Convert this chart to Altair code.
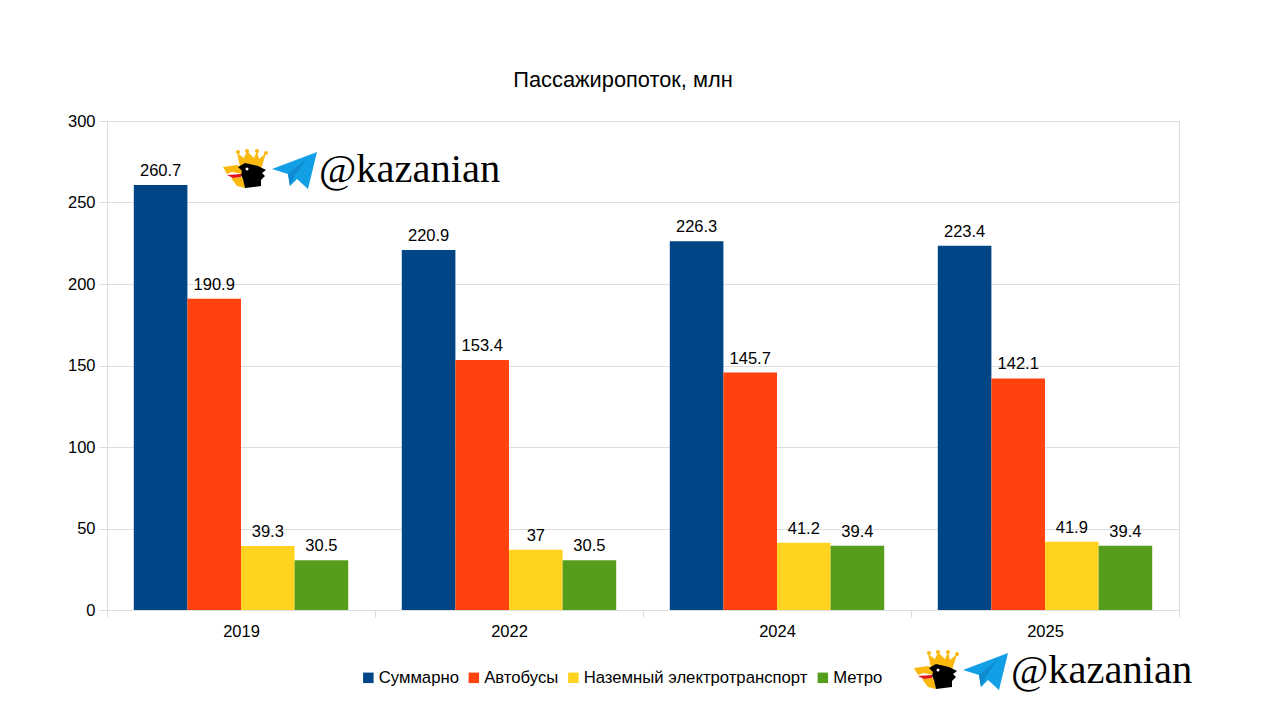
import base64
import altair as alt
import pandas as pd

years = ["2019", "2022", "2024", "2025"]
series = ["Суммарно", "Автобусы", "Наземный электротранспорт", "Метро"]
colors = ["#004586", "#ff420e", "#ffd320", "#579d1c"]
total = [260.7, 220.9, 226.3, 223.4]
buses = [190.9, 153.4, 145.7, 142.1]
surface = [39.3, 37, 41.2, 41.9]
metro = [30.5, 30.5, 39.4, 39.4]
yticks = [0, 50, 100, 150, 200, 250, 300]
title = "Пассажиропоток, млн"
handle = "@kazanian"

rows = []
for name, values in zip(series, [total, buses, surface, metro]):
    for year, v in zip(years, values):
        rows.append({"year": year, "series": name, "value": v, "label": str(v)})
df = pd.DataFrame(rows)

FONT = "Liberation Sans"
GRID = "#dddddd"

x = alt.X("year:N", sort=years, title=None,
          scale=alt.Scale(paddingInner=0, paddingOuter=0),
          axis=alt.Axis(labelAngle=0, labelFont=FONT, labelFontSize=16.5, labelColor="#000000",
                        domainColor=GRID, tickColor=GRID, tickSize=7, tickBand="extent",
                        labelPadding=6, grid=False))
xoff = alt.XOffset("series:N", sort=series, scale=alt.Scale(paddingInner=0, paddingOuter=0.5))

bars = alt.Chart(df).mark_bar().encode(
    x=x,
    xOffset=xoff,
    y=alt.Y("value:Q", title=None,
            scale=alt.Scale(domain=[0, 300], nice=False),
            axis=alt.Axis(values=yticks, labelFont=FONT, labelFontSize=16.5, labelColor="#000000",
                          domainColor=GRID, tickColor=GRID, tickSize=8, gridColor=GRID,
                          labelPadding=4)),
    color=alt.Color("series:N", sort=series,
                    scale=alt.Scale(domain=series, range=colors),
                    legend=alt.Legend(title=None, orient="none", legendX=253, legendY=548,
                                      direction="horizontal", columns=4, symbolType="square",
                                      symbolSize=110, symbolStrokeWidth=0, labelFont=FONT,
                                      labelFontSize=16.7, labelColor="#000000", labelOffset=2,
                                      columnPadding=6.5, labelLimit=400, padding=0)),
)

labels = alt.Chart(df).mark_text(baseline="bottom", dy=-6, font=FONT, fontSize=16.5, color="#000000").encode(
    x=x, xOffset=xoff, y="value:Q", text="label:N",
)

eagle = """<svg xmlns='http://www.w3.org/2000/svg' viewBox='0 0 46 40'>
<path fill='#fbb80f' d='M18 18 L15 4 L22 9 L25 2 L32 9 L35 2 L37 10 L44 4 L39 20 Z'/>
<circle cx='16' cy='3' r='2' fill='#fbb80f'/><circle cx='25' cy='2' r='2' fill='#fbb80f'/><circle cx='35' cy='2' r='2' fill='#fbb80f'/><circle cx='44' cy='4' r='2' fill='#fbb80f'/>
<path fill='#fbb80f' d='M1 18 L15 16 L21 19 L21 25 L10 23 L5 25 Z'/>
<path fill='#fbb80f' d='M9 29 L21 28 L23 39 L15 37 Z'/>
<path fill='#000000' d='M16 18 L23 14 L36 17 L44 21 L40 24 L43 27 L39 31 L39 37 L23 39 L21 30 L19 26 L20 22 Z'/>
<path fill='#e2131b' d='M5 26 L19 25 L19 28 L11 29 Z'/>
<circle cx='25' cy='20' r='1.5' fill='#ffffff'/></svg>"""
plane = """<svg xmlns='http://www.w3.org/2000/svg' viewBox='0 0 45 38'>
<path fill='#129fe6' d='M0 17 L45 0 L36 37 L25 27 L18 34 L16 22 Z'/>
<path fill='#0f8bd0' d='M16 22 L35 6 L22 25 L18 34 Z'/></svg>"""


def uri(svg):
    return "data:image/svg+xml;base64," + base64.b64encode(svg.encode()).decode()


one = pd.DataFrame({"n": [0]})


def logo(px, py, tx):
    # px, py: top-left of the eagle in plot coordinates
    a = alt.Chart(one).mark_image(url=uri(eagle), width=46, height=40, align="left", baseline="top").encode(
        x=alt.value(px), y=alt.value(py))
    b = alt.Chart(one).mark_image(url=uri(plane), width=45, height=38, align="left", baseline="top").encode(
        x=alt.value(px + 50), y=alt.value(py + 3))
    c = alt.Chart(one).mark_text(text=handle, font="Liberation Serif", fontSize=40.5, align="left",
                                 baseline="alphabetic", color="#000000").encode(
        x=alt.value(tx), y=alt.value(py + 33))
    return [a, b, c]


chart = alt.layer(bars, labels, *logo(115, 28, 212), *logo(806, 529, 904)).properties(
    width=1072, height=489,
    autosize=alt.AutoSizeParams(type="none"),
    padding={"left": 99, "top": 113, "right": 93, "bottom": 85},
    title=alt.TitleParams(title, font=FONT, fontSize=21.8, fontWeight="normal", color="#000000",
                          anchor="middle", dx=-20, offset=21),
).configure_view(stroke=GRID).configure_axisY(grid=True)

chart.save("out.html", embed_options={"renderer": "svg", "actions": False})
